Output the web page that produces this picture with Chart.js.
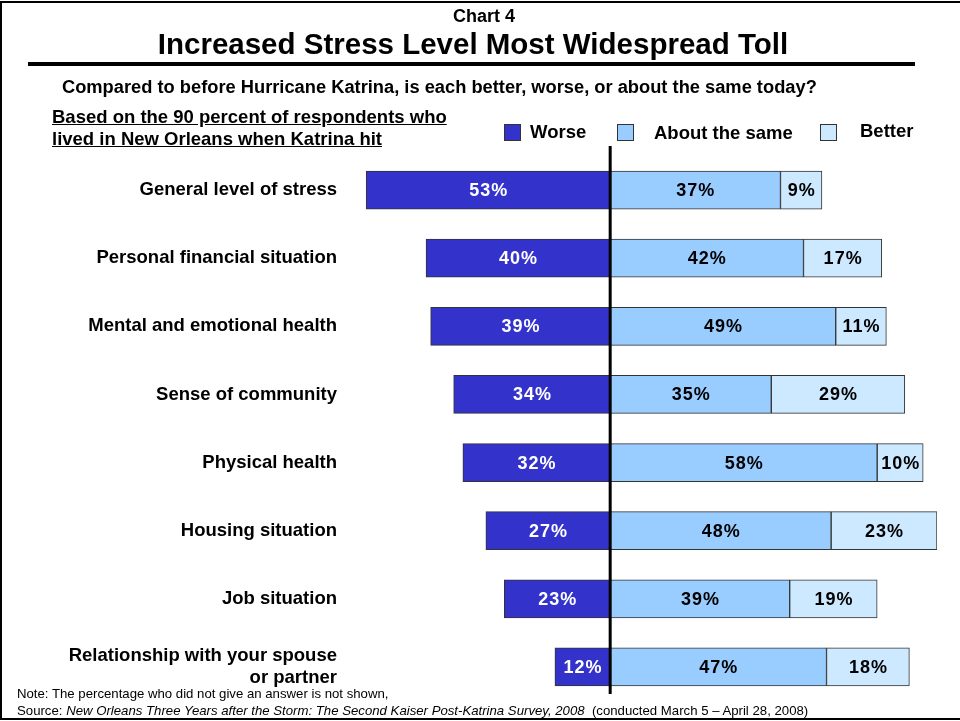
<!DOCTYPE html>
<html>
<head>
<meta charset="utf-8">
<script src="https://cdn.jsdelivr.net/npm/chart.js@4/dist/chart.umd.min.js"></script>
<style>
  body { margin: 0; background: #fff; font-family: "Liberation Sans", Arial, sans-serif; }
  #frame { position: absolute; left: 0; top: 1px; width: 966px; height: 719px; border: 2px solid #000; box-sizing: border-box; }
  #wrap { position: absolute; left: 0; top: 0; width: 960px; height: 721px; }
  .txt { position: absolute; font-weight: bold; color: #000; white-space: nowrap; }
  .box { position: absolute; width: 15px; height: 15px; border: 1px solid #333; }
</style>
</head>
<body>
<div id="frame"></div>
<div id="wrap">
  <canvas id="chartTensao" width="960" height="721"></canvas>
</div>
<div class="txt" style="left:0;width:968px;text-align:center;top:6px;font-size:18px;">Chart 4</div>
<div class="txt" style="left:0;width:946px;text-align:center;top:27px;font-size:29.5px;">Increased Stress Level Most Widespread Toll</div>
<div style="position:absolute;left:28px;top:62px;width:887px;height:4px;background:#000;"></div>
<div class="txt" style="left:62px;top:76px;font-size:18.3px;">Compared to before Hurricane Katrina, is each better, worse, or about the same today?</div>
<div class="txt" style="left:52px;top:106px;font-size:18.5px;text-decoration:underline;line-height:22px;">Based on the 90 percent of respondents who<br>lived in New Orleans when Katrina hit</div>

<div class="box" style="left:504px;top:124px;background:#3333cc;"></div>
<div class="txt" style="left:530px;top:121px;font-size:18.5px;">Worse</div>
<div class="box" style="left:617px;top:124px;background:#99ccff;"></div>
<div class="txt" style="left:654px;top:122px;font-size:18.5px;">About the same</div>
<div class="box" style="left:820px;top:124px;background:#cce9ff;"></div>
<div class="txt" style="left:860px;top:120px;font-size:18.5px;">Better</div>

<div class="txt" style="left:17px;top:686px;font-size:13.2px;font-weight:normal;">Note: The percentage who did not give an answer is not shown,</div>
<div class="txt" style="left:17px;top:703px;font-size:13.2px;font-weight:normal;">Source: <i>New Orleans Three Years after the Storm: The Second Kaiser Post-Katrina Survey, 2008</i>&nbsp; (conducted March 5 – April 28, 2008)</div>

<script>
const categorias = [
    'General level of stress',
    'Personal financial situation',
    'Mental and emotional health',
    'Sense of community',
    'Physical health',
    'Housing situation',
    'Job situation',
    ['Relationship with your spouse', 'or partner']
]
const pior = [53, 40, 39, 34, 32, 27, 23, 12]
const igual = [37, 42, 49, 35, 58, 48, 39, 47]
const melhor = [9, 17, 11, 29, 10, 23, 19, 18]

const fonte = '"Liberation Sans", Arial, sans-serif'

// linha vertical no zero + rótulos dentro das barras
const pluginRotulos = {
    id: 'rotulos',
    afterDatasetsDraw(chart) {
        const ctx = chart.ctx
        const x0 = chart.scales.x.getPixelForValue(0)
        ctx.save()
        ctx.fillStyle = '#000'
        ctx.fillRect(x0 - 1.5, 146, 3, 548)

        ctx.font = 'bold 18px ' + fonte
        ctx.letterSpacing = '1px'
        ctx.textAlign = 'center'
        ctx.textBaseline = 'middle'
        chart.data.datasets.forEach((ds, i) => {
            const meta = chart.getDatasetMeta(i)
            meta.data.forEach((bar, j) => {
                const v = Math.abs(ds.data[j])
                ctx.fillStyle = i === 0 ? '#fff' : '#000'
                ctx.fillText(v + '%', (bar.x + bar.base) / 2 + 0.5, bar.y + 1)
            })
        })
        ctx.restore()
    }
}

const data = {
    labels: categorias,
    datasets: [
        {
            label: 'Worse',
            data: pior.map(v => -v),
            backgroundColor: '#3333cc',
            borderColor: '#333333',
            borderWidth: 1,
            borderSkipped: false
        },
        {
            label: 'About the same',
            data: igual,
            backgroundColor: '#99ccff',
            borderColor: '#333333',
            borderWidth: 1,
            borderSkipped: false
        },
        {
            label: 'Better',
            data: melhor,
            backgroundColor: '#cce9ff',
            borderColor: '#333333',
            borderWidth: 1,
            borderSkipped: false
        }
    ]
}

const config = {
    type: 'bar',
    data: data,
    options: {
        indexAxis: 'y',
        responsive: false,
        animation: false,
        layout: { padding: { left: 0, right: 23, top: 156, bottom: 20 } },
        plugins: {
            legend: { display: false },
            tooltip: { enabled: false }
        },
        datasets: { bar: { barThickness: 38 } },
        scales: {
            x: {
                stacked: true,
                display: false,
                min: -55,
                max: 71
            },
            y: {
                stacked: true,
                grid: { display: false, drawTicks: false },
                border: { display: false },
                ticks: {
                    color: '#000',
                    font: { family: fonte, size: 18.5, weight: 'bold', lineHeight: 1.2 },
                    padding: 20
                },
                afterFit(scale) {
                    scale.width = 357
                    scale.paddingTop = 0
                    scale.paddingBottom = 0
                }
            }
        }
    },
    plugins: [pluginRotulos]
}

new Chart(document.getElementById('chartTensao'), config)
</script>
</body>
</html>
